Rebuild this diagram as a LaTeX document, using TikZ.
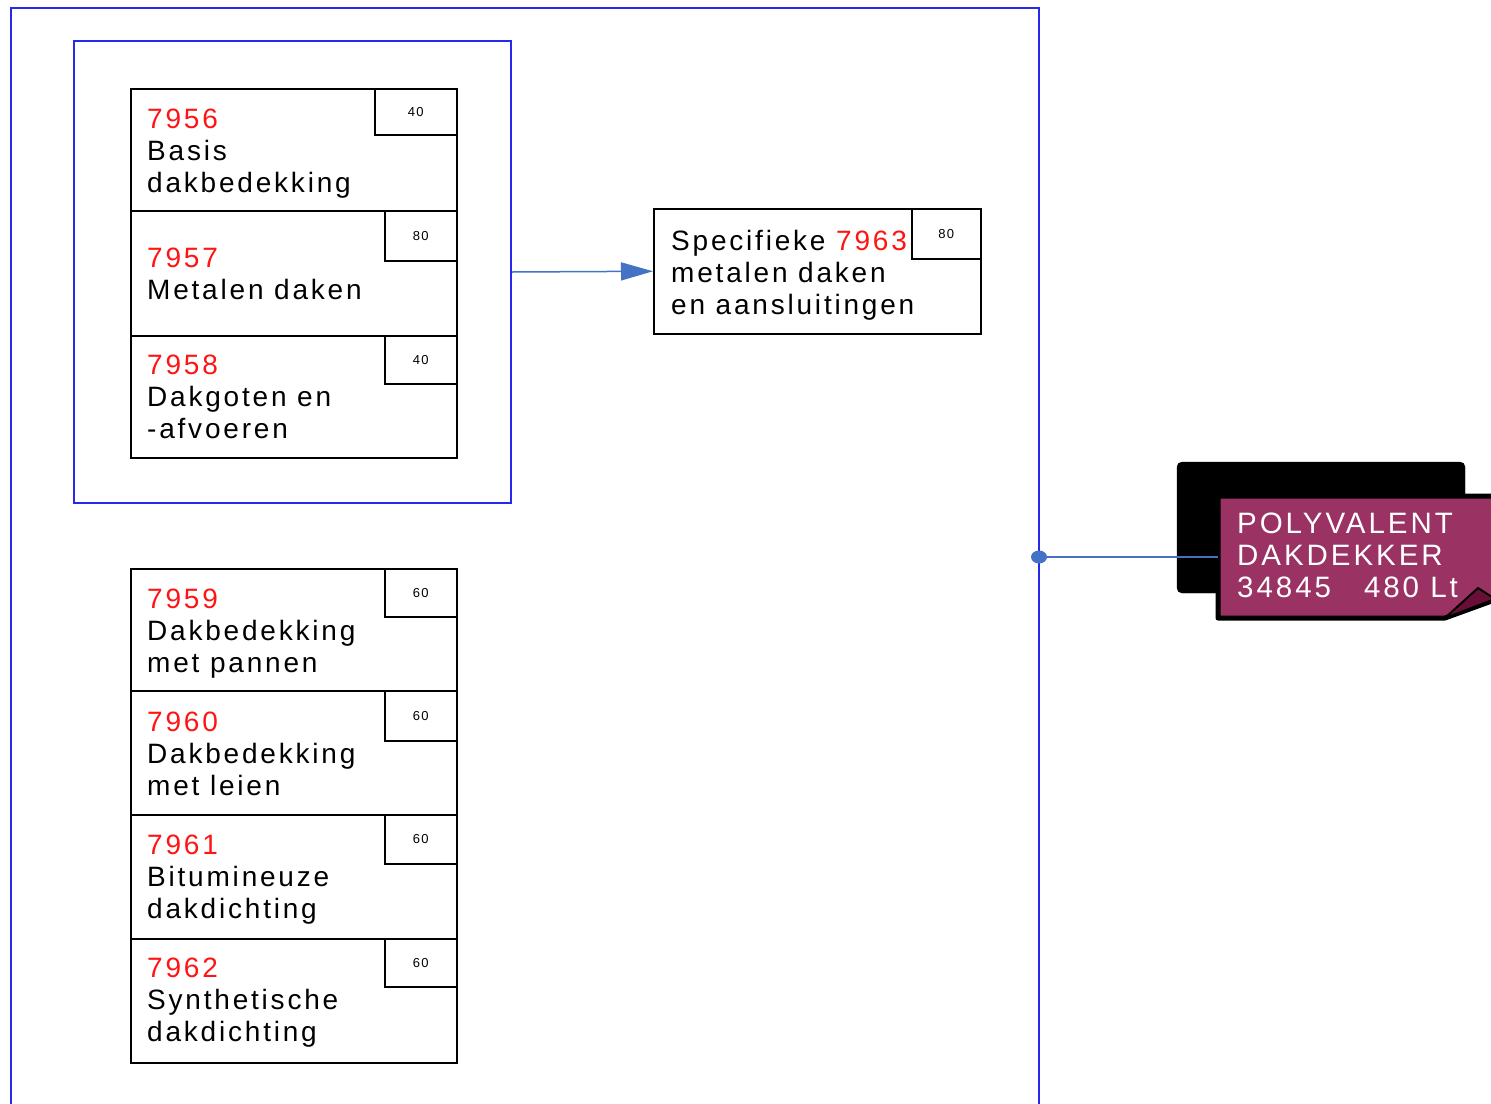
\documentclass[tikz,border=0pt]{standalone}
\usepackage{fontspec}
\setmainfont{Liberation Sans}[LetterSpace=10]
\usetikzlibrary{arrows.meta}
\definecolor{frameblue}{RGB}{40,40,235}
\definecolor{connblue}{RGB}{68,114,196}
\definecolor{plum}{RGB}{155,50,100}
\definecolor{plumdark}{RGB}{105,15,55}
\definecolor{numred}{RGB}{255,20,20}
\begin{document}
\begin{tikzpicture}[x=1pt,y=-1pt,
  frame/.style={draw=frameblue,line width=2pt},
  cell/.style={draw=black,line width=1.5pt,rectangle,inner sep=0pt,anchor=north west},
  tag/.style={draw=black,fill=white,line width=1.5pt,rectangle,inner sep=0pt,anchor=north east,
    font=\fontsize{13}{15}\selectfont},
  lbl/.style={anchor=base west,align=left,inner sep=0pt,font=\fontsize{28}{32}\selectfont},
  conn/.style={draw=connblue,line width=1.5pt}
]
\useasboundingbox (0,0) rectangle (1491,1103);
% outer frame (open at the bottom)
\coordinate (oBL) at (11,1110);
\coordinate (oTL) at (11,8);
\coordinate (oTR) at (1039,8);
\coordinate (oBR) at (1039,1110);
\draw[frame] (oBL) -- (oTL) -- (oTR) -- (oBR);
% inner frame
\node[frame,rectangle,inner sep=0pt,anchor=north west,minimum width=437pt,minimum height=462pt] (inner) at (73,40) {};

% first group
\node[cell,minimum width=326pt,minimum height=122pt] (c7956) at (130,88) {};
\node[lbl] (l7956) at (147,192) {\textcolor{numred}{7956}\\Basis\\dakbedekking};
\node[tag,minimum width=82pt,minimum height=46pt] (t7956) at (c7956.north east) {40};

\node[cell,minimum width=326pt,minimum height=125pt] (c7957) at (130,210) {};
\node[lbl] (l7957) at (147,299) {\textcolor{numred}{7957}\\Metalen daken};
\node[tag,minimum width=72pt,minimum height=50pt] (t7957) at (c7957.north east) {80};

\node[cell,minimum width=326pt,minimum height=122pt] (c7958) at (130,335) {};
\node[lbl] (l7958) at (147,438) {\textcolor{numred}{7958}\\Dakgoten en\\-afvoeren};
\node[tag,minimum width=72pt,minimum height=48pt] (t7958) at (c7958.north east) {40};

% second group
\node[cell,minimum width=326pt,minimum height=122pt] (c7959) at (130,568) {};
\node[lbl] (l7959) at (147,672) {\textcolor{numred}{7959}\\Dakbedekking\\met pannen};
\node[tag,minimum width=72pt,minimum height=48pt] (t7959) at (c7959.north east) {60};

\node[cell,minimum width=326pt,minimum height=124pt] (c7960) at (130,690) {};
\node[lbl] (l7960) at (147,795) {\textcolor{numred}{7960}\\Dakbedekking\\met leien};
\node[tag,minimum width=72pt,minimum height=50pt] (t7960) at (c7960.north east) {60};

\node[cell,minimum width=326pt,minimum height=124pt] (c7961) at (130,814) {};
\node[lbl] (l7961) at (147,918) {\textcolor{numred}{7961}\\Bitumineuze\\dakdichting};
\node[tag,minimum width=72pt,minimum height=49pt] (t7961) at (c7961.north east) {60};

\node[cell,minimum width=326pt,minimum height=124pt] (c7962) at (130,938) {};
\node[lbl] (l7962) at (147,1041) {\textcolor{numred}{7962}\\Synthetische\\dakdichting};
\node[tag,minimum width=72pt,minimum height=48pt] (t7962) at (c7962.north east) {60};

% specific box
\node[cell,minimum width=327pt,minimum height=125pt] (c7963) at (653,208) {};
\node[lbl] (l7963) at (671,314) {Specifieke \textcolor{numred}{7963}\\metalen daken\\en aansluitingen};
\node[tag,minimum width=69pt,minimum height=50pt] (t7963) at (c7963.north east) {80};

\draw[conn,-{Triangle[length=32pt,width=18pt]}] (inner.east) -- (c7963.west);

% role card
\draw[fill=black,rounded corners=5pt] (1177,462) rectangle (1465,593);
\draw[line width=5pt,fill=plum,line join=round] (1218,496) -- (1500,496) -- (1500,598) -- (1445,618) -- (1218,618) -- cycle;
\draw[line width=2pt,fill=plumdark,line join=round] (1445,618) -- (1478,588) -- (1495,599) -- cycle;
\node[lbl,text=white,font=\fontsize{29.5}{32}\selectfont] (poly) at (1237,597) {POLYVALENT\\DAKDEKKER\\34845\hspace{33pt}480 Lt};
\coordinate (polyedge) at (1218,557);
\coordinate (dot) at (1039,557);
\draw[conn] (dot) -- (polyedge);
\fill[connblue] (dot) ellipse (8pt and 6.5pt);
\end{tikzpicture}
\end{document}
